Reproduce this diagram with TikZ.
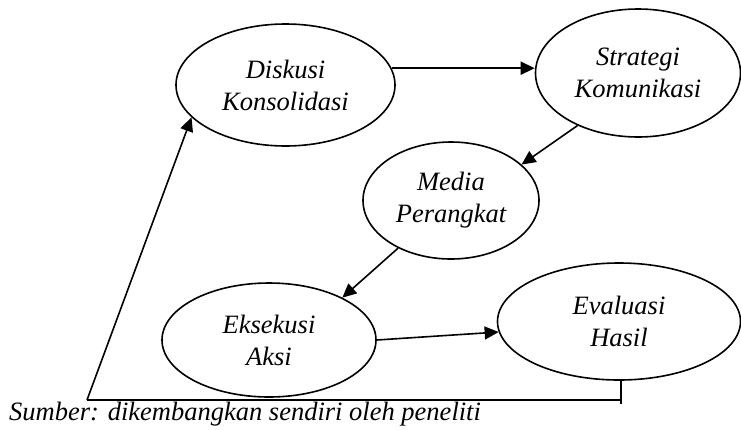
\documentclass[tikz,border=0pt]{standalone}
\usepackage{fontspec}
\setmainfont{Liberation Serif}[ItalicFont={Liberation Serif Italic}]
\newfontfamily\capfont{Liberation Serif Italic}
\usetikzlibrary{shapes.geometric,arrows.meta}
\tikzset{
  stage/.style={ellipse,draw,line width=1.6pt,inner sep=0pt,align=center,
    font=\capfont\fontsize{26.5}{32}\selectfont},
  arr/.style={line width=1.6pt,-{Triangle[length=14pt,width=13pt]}},
  ln/.style={line width=1.6pt},
}
\begin{document}
\begin{tikzpicture}[x=1pt,y=-1pt]
\useasboundingbox (0,0) rectangle (741,429);
\node[stage,minimum width=219pt,minimum height=122pt] (disk) at (285.5,85) {Diskusi\\Konsolidasi};
\node[stage,minimum width=205pt,minimum height=128pt] (strat) at (638,73) {Strategi\\Komunikasi};
\node[stage,minimum width=176pt,minimum height=117pt] (media) at (451,200.5) {Media\\Perangkat};
\node[stage,minimum width=214pt,minimum height=114pt] (eks) at (269,340) {Eksekusi\\Aksi};
\node[stage,minimum width=243pt,minimum height=117pt] (eval) at (619,321.5) {Evaluasi\\Hasil};
\node[anchor=base west,inner sep=0pt,font=\capfont\fontsize{26.5}{32}\selectfont] (src) at (9,420) {Sumber: dikembangkan sendiri oleh peneliti};

\draw[arr] (disk.9) -- (strat.west |- disk.9);
\draw[arr] (strat.221) -- (media.27);
\draw[arr] (media.222) -- (eks.30);
\draw[arr] (eks.east) -- (eval.185);

\coordinate (fbdown) at ([xshift=2pt]eval.south |- 0,404);
\coordinate (fbright) at ([xshift=1pt]eval.south |- 0,400);
\coordinate (fbleft) at (87,400);
\draw[ln] ([xshift=2pt]eval.south) -- (fbdown);
\draw[ln] (fbright) -- (fbleft);
\draw[arr] (fbleft) -- (disk.199.6);
\end{tikzpicture}
\end{document}
